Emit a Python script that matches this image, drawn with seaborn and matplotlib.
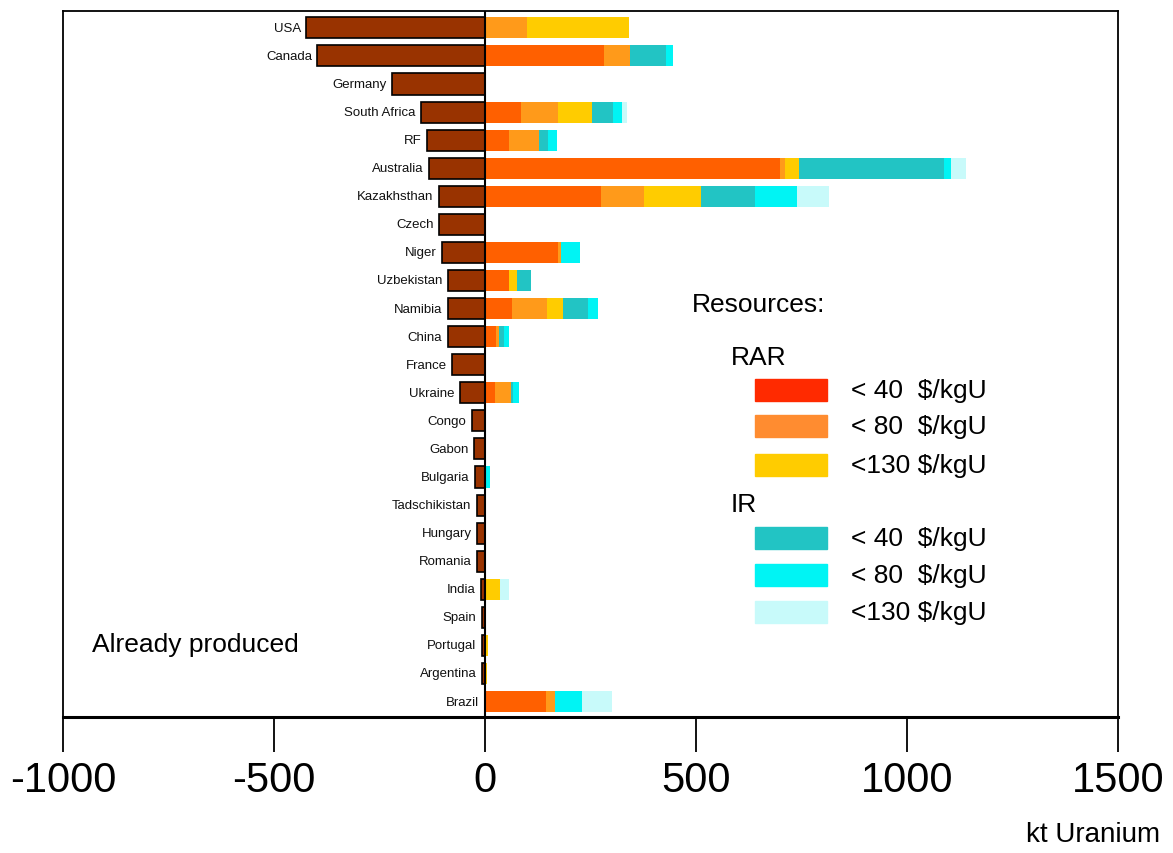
import numpy as np
import pandas as pd
import matplotlib
matplotlib.use('Agg')
import matplotlib.pyplot as plt
import seaborn as sns
from matplotlib.patches import Rectangle

sns.set_style("white")
plt.rcParams['font.family'] = ['Liberation Sans', 'DejaVu Sans']
plt.rcParams['axes.unicode_minus'] = False
plt.rcParams['text.color'] = 'black'
plt.rcParams['xtick.color'] = 'black'
plt.rcParams['xtick.labelcolor'] = 'black'

# Datos (kt Uranio)
countries = ['USA', 'Canada', 'Germany', 'South Africa', 'RF', 'Australia', 'Kazakhsthan',
             'Czech', 'Niger', 'Uzbekistan', 'Namibia', 'China', 'France', 'Ukraine',
             'Congo', 'Gabon', 'Bulgaria', 'Tadschikistan', 'Hungary', 'Romania', 'India',
             'Spain', 'Portugal', 'Argentina', 'Brazil']
produced = [423, 397, 221, 152, 138, 133, 109, 109, 102, 88, 88, 88, 78, 59,
            31, 26, 24, 19, 19, 19, 10, 7, 7, 7, 1]
rar40 = [0, 283, 0, 85, 58, 698, 275, 0, 174, 58, 63, 26, 0, 24, 0, 0, 0, 0, 0, 0, 0, 0, 0, 0, 145]
rar80 = [99, 60, 0, 89, 71, 14, 101, 0, 6, 0, 83, 8, 0, 37, 0, 0, 0, 0, 0, 0, 0, 0, 0, 0, 20]
rar130 = [243, 0, 0, 79, 0, 33, 136, 0, 0, 17, 38, 0, 0, 0, 0, 2, 0, 0, 0, 0, 36, 0, 7, 5, 0]
ir40 = [0, 85, 0, 51, 21, 343, 127, 0, 0, 33, 59, 10, 0, 6, 3, 0, 0, 0, 0, 0, 0, 0, 0, 0, 0]
ir80 = [0, 18, 0, 20, 21, 17, 101, 0, 46, 0, 24, 14, 0, 13, 0, 0, 12, 0, 0, 0, 0, 0, 0, 0, 66]
ir130 = [0, 0, 0, 12, 0, 34, 75, 0, 0, 0, 0, 0, 0, 0, 0, 0, 0, 0, 0, 0, 21, 0, 0, 0, 69]

series = [rar40, rar80, rar130, ir40, ir80, ir130]
bar_colors = ['#FF6000', '#FF9A1A', '#FFCC00', '#22C4C4', '#00F4F4', '#C8FAFA']
legend_colors = ['#FF2A00', '#FF8C30', '#FFCC00', '#22C4C4', '#00F4F4', '#C8FAFA']
legend_labels = ['< 40  $/kgU', '< 80  $/kgU', '<130 $/kgU']
produced_color = '#993300'

W, H = 1173, 854
fig = plt.figure(figsize=(W / 100, H / 100), dpi=100)
ax = fig.add_axes([63 / W, 1 - 718 / H, (1118 - 63) / W, (718 - 12) / H])

# Barras apiladas: dibujar acumulados de mayor a menor
cum = np.cumsum(np.array(series), axis=0)
for k in range(len(series) - 1, -1, -1):
    df_k = pd.DataFrame({'pais': countries, 'valor': cum[k]})
    sns.barplot(data=df_k, x='valor', y='pais', orient='h', color=bar_colors[k],
                saturation=1, width=0.75, linewidth=0, ax=ax)

# Ya producido (negativo)
df_p = pd.DataFrame({'pais': countries, 'valor': [-v for v in produced]})
sns.barplot(data=df_p, x='valor', y='pais', orient='h', color=produced_color,
            saturation=1, width=0.75, edgecolor='black', linewidth=1.2, ax=ax)

for i, (c, p) in enumerate(zip(countries, produced)):
    ax.annotate(c, xy=(-p, i), xytext=(-4, 0), textcoords='offset points',
                ha='right', va='center', fontsize=9.5, color='#111111')

ax.axvline(0, color='black', lw=1.5)
ax.set_xlim(-1000, 1500)
ax.set_ylim(24.55, -0.6)
ax.set_xticks([-1000, -500, 0, 500, 1000, 1500])
ax.set_yticks([])
ax.set_xlabel('')
ax.set_ylabel('')
ax.tick_params(axis='x', length=25, width=1.3, direction='out', pad=6, labelsize=30,
               bottom=True, colors='black')
for s in ax.spines.values():
    s.set_color('black')
    s.set_linewidth(1.3)
ax.spines['bottom'].set_linewidth(2.2)

# Textos
fig.text(1160 / W, 1 - 835 / H, 'kt Uranium', ha='right', va='center', fontsize=20)
fig.text(92 / W, 1 - 645 / H, 'Already produced', ha='left', va='center', fontsize=19)

# Leyenda manual
fig.text(692 / W, 1 - 305 / H, 'Resources:', ha='left', va='center', fontsize=19)
fig.text(731 / W, 1 - 358 / H, 'RAR', ha='left', va='center', fontsize=19)
fig.text(731 / W, 1 - 505 / H, 'IR', ha='left', va='center', fontsize=19)
rows = [391, 427, 466, 539, 576, 613]
for k, yc in enumerate(rows):
    fig.patches.append(Rectangle((755 / W, 1 - (yc + 11) / H), 72 / W, 22 / H,
                                 transform=fig.transFigure, color=legend_colors[k]))
    fig.text(851 / W, 1 - yc / H, legend_labels[k % 3], ha='left', va='center', fontsize=19)

fig.savefig('out.png', dpi=100)
